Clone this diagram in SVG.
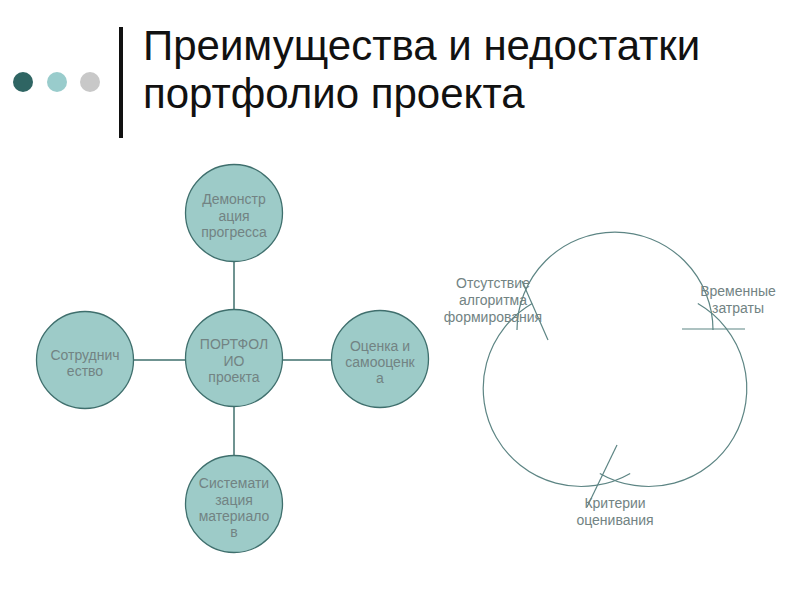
<svg xmlns="http://www.w3.org/2000/svg" width="800" height="600" viewBox="0 0 800 600">
<style>
.node{fill:#9dcbc8;stroke:#3f6f6d;stroke-width:1.3}
.nt{font-family:"Liberation Sans",Arial,sans-serif;font-size:14px;fill:#728383;text-anchor:middle}
.conn{stroke:#3f6f6d;stroke-width:1.5;fill:none}
.cyc{stroke:#5d8584;stroke-width:1.2;fill:none}
.title{font-family:"Liberation Sans",Arial,sans-serif;font-size:42px;fill:#111}
</style>
<rect width="800" height="600" fill="#fff"/>
<g id="header">
<circle cx="23" cy="82" r="10" fill="#2f6563"/>
<circle cx="57" cy="82" r="10" fill="#99cccc"/>
<circle cx="90" cy="82" r="10" fill="#c8c8c8"/>
<rect x="119" y="27" width="4" height="111" fill="#111"/>
<text class="title" x="143" y="60">Преимущества и недостатки</text>
<text class="title" x="143" y="108">портфолио проекта</text>
</g>
<g id="connectors">
<line class="conn" x1="234" y1="261" x2="234" y2="310"/>
<line class="conn" x1="133" y1="360" x2="186" y2="360"/>
<line class="conn" x1="282" y1="360" x2="332" y2="360"/>
<line class="conn" x1="234" y1="406" x2="234" y2="456"/>
</g>
<g id="node-center">
<circle class="node" cx="234" cy="358" r="48.5"/>
<text class="nt" x="234" y="349">ПОРТФОЛ</text>
<text class="nt" x="234" y="366">ИО</text>
<text class="nt" x="234" y="382">проекта</text>
</g>
<g id="node-top">
<circle class="node" cx="234" cy="213" r="48.5"/>
<text class="nt" x="234" y="204">Демонстр</text>
<text class="nt" x="234" y="221">ация</text>
<text class="nt" x="234" y="237">прогресса</text>
</g>
<g id="node-left">
<circle class="node" cx="85" cy="360" r="48.5"/>
<text class="nt" x="85" y="360">Сотруднич</text>
<text class="nt" x="85" y="376">ество</text>
</g>
<g id="node-right">
<circle class="node" cx="380" cy="359" r="48.5"/>
<text class="nt" x="380" y="351">Оценка и</text>
<text class="nt" x="380" y="367">самооценк</text>
<text class="nt" x="380" y="383">а</text>
</g>
<g id="node-bottom">
<circle class="node" cx="234" cy="504" r="48.5"/>
<text class="nt" x="234" y="488">Системати</text>
<text class="nt" x="234" y="505">зация</text>
<text class="nt" x="234" y="521">материало</text>
<text class="nt" x="234" y="537">в</text>
</g>
<g id="cycle-arcs">
<path class="cyc" d="M517 330 A98 98 0 0 1 713 330"/>
<line class="cyc" x1="682" y1="329" x2="745" y2="329"/>
<path class="cyc" d="M697.8 303.6 A98 98 0 0 1 599.8 473.4"/>
<line class="cyc" x1="617" y1="445" x2="587" y2="507"/>
<path class="cyc" d="M630.2 473.4 A98 98 0 0 1 532.2 303.6"/>
<line class="cyc" x1="522" y1="281" x2="548" y2="340"/>
</g>
<g id="cycle-1">
<text class="nt" x="493" y="288">Отсутствие</text>
<text class="nt" x="493" y="305">алгоритма</text>
<text class="nt" x="493" y="322">формирования</text>
</g>
<g id="cycle-2">
<text class="nt" x="738" y="296">Временные</text>
<text class="nt" x="738" y="313">затраты</text>
</g>
<g id="cycle-3">
<text class="nt" x="615" y="508">Критерии</text>
<text class="nt" x="615" y="525">оценивания</text>
</g>
</svg>
